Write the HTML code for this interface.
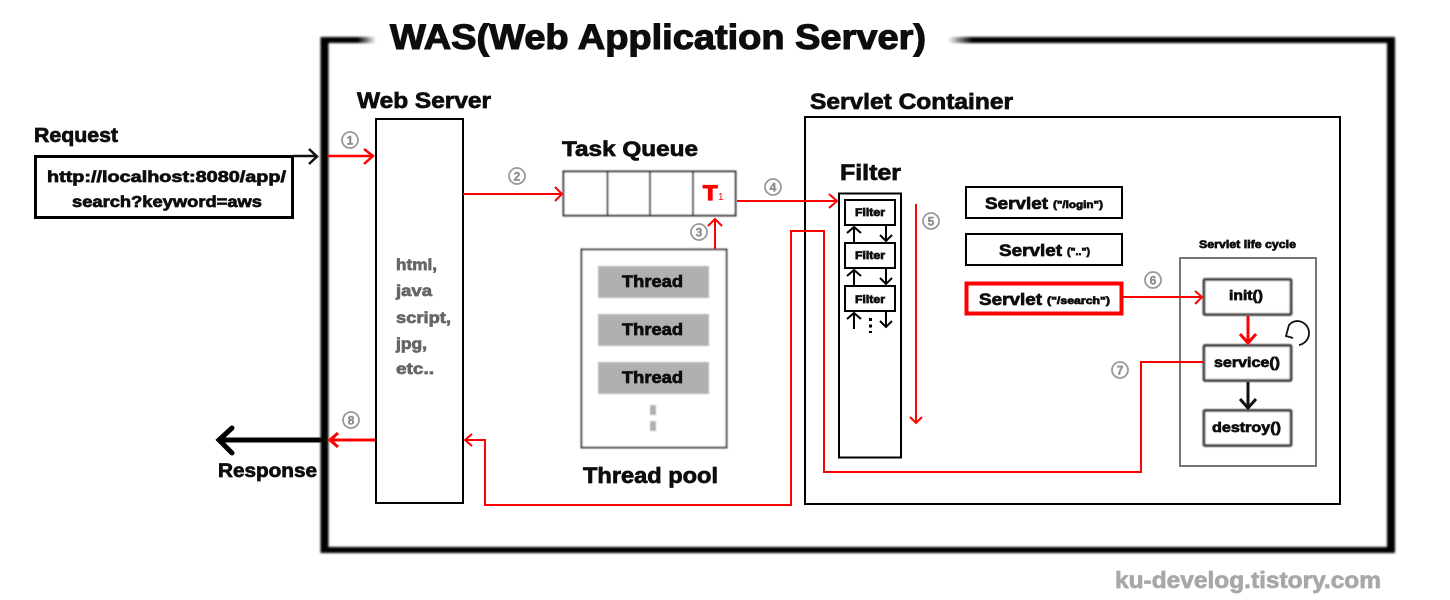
<!DOCTYPE html>
<html><head><meta charset="utf-8">
<style>
html,body{margin:0;padding:0;background:#fff;width:1450px;height:600px;overflow:hidden}
svg{display:block}
text{font-family:"Liberation Sans","Noto Sans CJK KR",sans-serif;font-weight:bold;fill:#0a0a0a;stroke:#0a0a0a;stroke-width:.7px}
.n{fill:#8c8c8c;stroke:#8c8c8c;stroke-width:.4px;font-size:12px;text-anchor:middle}
.c{fill:none;stroke:#999;stroke-width:1.800}
.r{fill:none;stroke:#f00;stroke-width:2}
.h{fill:#666;stroke:#666}
</style></head><body>
<svg width="1450" height="600" viewBox="0 0 1450 600" xmlns="http://www.w3.org/2000/svg">
<defs>
<filter id="b" x="-5%" y="-5%" width="110%" height="110%"><feGaussianBlur stdDeviation="1"/></filter>
<filter id="b2" x="-20%" y="-20%" width="140%" height="140%"><feGaussianBlur stdDeviation=".8"/></filter>
<filter id="t" x="-5%" y="-20%" width="110%" height="140%"><feGaussianBlur stdDeviation=".35"/></filter>
<linearGradient id="fl" gradientUnits="userSpaceOnUse" x1="358" y1="0" x2="376" y2="0"><stop offset="0" stop-color="#000"/><stop offset="1" stop-color="#fff"/></linearGradient>
<linearGradient id="fr" gradientUnits="userSpaceOnUse" x1="948" y1="0" x2="972" y2="0"><stop offset="0" stop-color="#fff"/><stop offset="1" stop-color="#000"/></linearGradient>
</defs>
<rect width="1450" height="600" fill="#fff"/>

<!-- outer frame -->
<g filter="url(#b)">
<rect x="320.500" y="37" width="8" height="516" fill="#000"/>
<rect x="1387" y="37" width="8" height="516" fill="#000"/>
<rect x="320.500" y="547" width="1074" height="6" fill="#000"/>
<rect x="320.500" y="37" width="56" height="6" fill="url(#fl)"/>
<rect x="948" y="37" width="447" height="6" fill="url(#fr)"/>
</g>

<g filter="url(#t)">
<text x="390" y="49" font-size="35" textLength="536" lengthAdjust="spacingAndGlyphs" style="stroke-width:1.100px">WAS(Web Application Server)</text>
<text x="357" y="108" font-size="22" textLength="134" lengthAdjust="spacingAndGlyphs">Web Server</text>
<text x="810" y="109" font-size="22" textLength="203" lengthAdjust="spacingAndGlyphs">Servlet Container</text>
<text x="34" y="142" font-size="20" textLength="84" lengthAdjust="spacingAndGlyphs">Request</text>
<text x="47" y="182" font-size="16" textLength="239" lengthAdjust="spacingAndGlyphs">http://localhost:8080/app/</text>
<text x="72" y="207" font-size="16" textLength="190" lengthAdjust="spacingAndGlyphs">search?keyword=aws</text>
<text x="562" y="156" font-size="21" textLength="136" lengthAdjust="spacingAndGlyphs">Task Queue</text>
<text x="840" y="180" font-size="22" textLength="61" lengthAdjust="spacingAndGlyphs">Filter</text>
<text x="583" y="483" font-size="22" textLength="135" lengthAdjust="spacingAndGlyphs">Thread pool</text>
<text x="218" y="477" font-size="19" textLength="99" lengthAdjust="spacingAndGlyphs">Response</text>
</g>

<!-- request box -->
<rect x="35.500" y="156.500" width="257" height="61" fill="none" stroke="#000" stroke-width="3"/>
<path d="M293 156H316M309 149L317 156.500L309 164" fill="none" stroke="#111" stroke-width="2.500"/>

<!-- web server -->
<rect x="376" y="119" width="87" height="384" fill="#fff" stroke="#000" stroke-width="2"/>
<g filter="url(#t)">
<text class="h" x="396" y="270" font-size="16" textLength="41" lengthAdjust="spacingAndGlyphs">html,</text>
<text class="h" x="396" y="296" font-size="16" textLength="36" lengthAdjust="spacingAndGlyphs">java</text>
<text class="h" x="396" y="323" font-size="16" textLength="55" lengthAdjust="spacingAndGlyphs">script,</text>
<text class="h" x="396" y="349" font-size="16" textLength="31" lengthAdjust="spacingAndGlyphs">jpg,</text>
<text class="h" x="396" y="374" font-size="16" textLength="38" lengthAdjust="spacingAndGlyphs">etc..</text>
</g>

<!-- task queue -->
<g filter="url(#b2)">
<rect x="563.500" y="171.500" width="172" height="44" fill="#fff" stroke="#333" stroke-width="2"/>
<path d="M607.500 171V216M650 171V216M693 171V216" stroke="#333" stroke-width="2" fill="none"/>
</g>
<text x="703" y="200" font-size="21" textLength="14.500" lengthAdjust="spacingAndGlyphs" style="fill:#f00;stroke:#f00;stroke-width:1.200px">T</text>
<text x="718" y="200" font-size="10" style="fill:#f00;stroke:none;font-weight:normal">1</text>

<!-- thread pool -->
<g filter="url(#b2)">
<rect x="581.500" y="249.500" width="145" height="198" fill="#fff" stroke="#444" stroke-width="2"/>
<rect x="598" y="266" width="111" height="32" fill="#b0b0b0"/>
<rect x="598" y="314" width="111" height="32" fill="#b0b0b0"/>
<rect x="598" y="362" width="111" height="32" fill="#b0b0b0"/>
<rect x="650" y="405" width="6" height="10" fill="#b0b0b0"/>
<rect x="650" y="421" width="6" height="10" fill="#b0b0b0"/>
</g>
<g filter="url(#t)">
<text x="622" y="287" font-size="17" textLength="61" lengthAdjust="spacingAndGlyphs">Thread</text>
<text x="622" y="335" font-size="17" textLength="61" lengthAdjust="spacingAndGlyphs">Thread</text>
<text x="622" y="383" font-size="17" textLength="61" lengthAdjust="spacingAndGlyphs">Thread</text>
</g>

<!-- servlet container -->
<rect x="805" y="117" width="535" height="387" fill="none" stroke="#000" stroke-width="2"/>

<!-- filter column -->
<rect x="839" y="193.500" width="62" height="264" fill="#fff" stroke="#000" stroke-width="2"/>
<g fill="#fff" stroke="#000" stroke-width="2">
<rect x="845" y="200" width="50" height="25"/>
<rect x="845" y="243" width="50" height="25"/>
<rect x="845" y="286" width="50" height="25"/>
</g>
<g filter="url(#t)">
<text x="855" y="216" font-size="11" textLength="30" lengthAdjust="spacingAndGlyphs">Filter</text>
<text x="855" y="259" font-size="11" textLength="30" lengthAdjust="spacingAndGlyphs">Filter</text>
<text x="855" y="303" font-size="11" textLength="30" lengthAdjust="spacingAndGlyphs">Filter</text>
</g>
<g fill="none" stroke="#000" stroke-width="2">
<path d="M854 243V227M847 233L854 227L861 233"/>
<path d="M886 225V241M880 235L886 241L892 235"/>
<path d="M854 286V270M847 276L854 270L861 276"/>
<path d="M886 268V284M880 278L886 284L892 278"/>
<path d="M854 329V313M847 319L854 313L861 319"/>
<path d="M886 311V327M880 321L886 327L892 321"/>
</g>
<path d="M870.500 318V333" stroke="#000" stroke-width="3" stroke-dasharray="3 3.500" fill="none"/>

<!-- servlets -->
<g fill="#fff" stroke="#000" stroke-width="2">
<rect x="966" y="187" width="156" height="31"/>
<rect x="966" y="234" width="156" height="31"/>
</g>
<rect x="966.500" y="283.500" width="155" height="30" fill="#fff" stroke="#f00" stroke-width="4"/>
<g filter="url(#t)">
<text x="985" y="209" font-size="17" textLength="63" lengthAdjust="spacingAndGlyphs">Servlet</text>
<text x="1053" y="208" font-size="10" textLength="50" lengthAdjust="spacingAndGlyphs">("/login")</text>
<text x="999" y="256" font-size="17" textLength="63" lengthAdjust="spacingAndGlyphs">Servlet</text>
<text x="1067" y="255" font-size="10" textLength="23" lengthAdjust="spacingAndGlyphs">("..")</text>
<text x="979" y="305" font-size="17" textLength="63" lengthAdjust="spacingAndGlyphs">Servlet</text>
<text x="1047" y="304" font-size="10" textLength="63" lengthAdjust="spacingAndGlyphs">("/search")</text>
<text x="1199" y="248" font-size="11" textLength="97" lengthAdjust="spacingAndGlyphs">Servlet life cycle</text>
</g>

<!-- life cycle -->
<rect x="1180" y="258" width="136" height="208" fill="#fff" stroke="#777" stroke-width="2"/>
<g filter="url(#b2)" fill="#fff" stroke="#444" stroke-width="3">
<rect x="1204" y="279.500" width="87" height="35" rx="1"/>
<rect x="1204" y="345.500" width="87" height="35" rx="1"/>
<rect x="1204" y="410.500" width="87" height="35" rx="1"/>
</g>
<g filter="url(#t)">
<text x="1229" y="300" font-size="14" textLength="34" lengthAdjust="spacingAndGlyphs">init()</text>
<text x="1214" y="367" font-size="14" textLength="66" lengthAdjust="spacingAndGlyphs">service()</text>
<text x="1212" y="432" font-size="14" textLength="69" lengthAdjust="spacingAndGlyphs">destroy()</text>
</g>
<path d="M1248 316V342M1240 334L1248 343L1256 334" fill="none" stroke="#f00" stroke-width="3"/>
<path d="M1248 382V407M1240 399L1248 408L1256 399" fill="none" stroke="#111" stroke-width="3"/>
<path d="M1299 345A12 12 0 0 0 1309 333A12 12 0 0 0 1297 321A12 12 0 0 0 1289 325L1286 336L1293 338" fill="none" stroke="#111" stroke-width="1.800"/>

<!-- red connectors -->
<path d="M328 156H372M364 149L373 156L364 164" fill="none" stroke="#f00" stroke-width="2.500"/>
<path class="r" d="M463 194H561M555 187L562 194L555 201"/>
<path class="r" d="M715 249V219M708 226L715 219L722 226"/>
<path class="r" d="M737 201H836M829 194L837 201L829 208"/>
<path class="r" d="M916 204V423M910 417L916 423L922 417"/>
<path class="r" d="M1123 297H1201M1195 291L1202 297L1195 304"/>
<path class="r" d="M1203 362H1141V472H824V231H791V505H485V440H465M472 434L465 440L472 446"/>
<path d="M375 440H330M338 433L330 440L338 447" fill="none" stroke="#f00" stroke-width="3"/>
<path d="M320 440H220M232 428L219 440L232 453" fill="none" stroke="#000" stroke-width="5" stroke-linecap="round"/>

<!-- step numbers -->
<g filter="url(#t)">
<circle class="c" cx="350" cy="140" r="8"/><text class="n" x="350" y="144.500">1</text>
<circle class="c" cx="517" cy="176" r="8"/><text class="n" x="517" y="180.500">2</text>
<circle class="c" cx="699" cy="232" r="8"/><text class="n" x="699" y="236.500">3</text>
<circle class="c" cx="773" cy="187" r="8"/><text class="n" x="773" y="191.500">4</text>
<circle class="c" cx="931" cy="221" r="8"/><text class="n" x="931" y="225.500">5</text>
<circle class="c" cx="1153" cy="280" r="8"/><text class="n" x="1153" y="284.500">6</text>
<circle class="c" cx="1120" cy="370" r="8"/><text class="n" x="1120" y="374.500">7</text>
<circle class="c" cx="351" cy="420" r="8"/><text class="n" x="351" y="424.500">8</text>
</g>

<text x="1115" y="588" font-size="23" textLength="266" lengthAdjust="spacingAndGlyphs" filter="url(#t)" style="fill:#a8a8a8;stroke:#a8a8a8;stroke-width:.7px">ku-develog.tistory.com</text>
</svg>
</body></html>
